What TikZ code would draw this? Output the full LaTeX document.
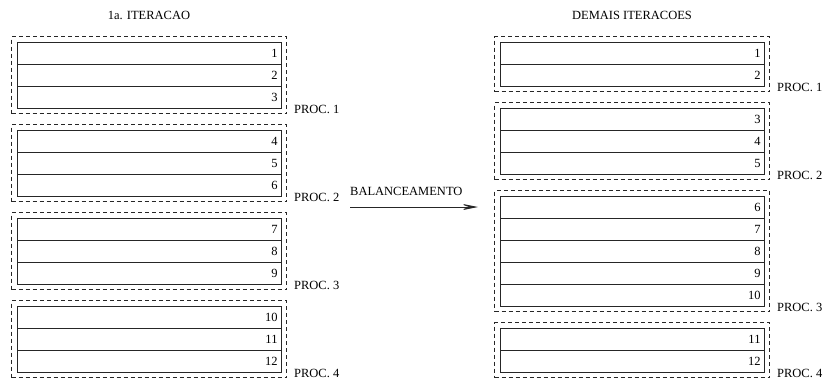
\documentclass[tikz,border=0pt]{standalone}
\usepackage{fontspec}
\setmainfont{Liberation Serif}
\usepackage{tikz}
\usetikzlibrary{positioning,fit,arrows.meta}

\begin{document}
\begin{tikzpicture}[
	x=1pt, y=1pt,
	every node/.style = {font=\fontsize{12.5}{14}\selectfont},
	rowbox/.style = {shape=rectangle, draw=black!85, line width=0.9pt,
		minimum width=264pt, minimum height=22pt, outer sep=0pt,
		text width=257pt, align=right, inner sep=3.5pt},
	procbox/.style = {shape=rectangle, draw=black!85, dashed, line width=0.9pt,
		dash pattern=on 4pt off 3pt, inner sep=5.5pt},
	proclabel/.style = {anchor=base west, inner sep=0pt},
	balarrow/.style = {draw=black!85, line width=0.9pt,
		-{Stealth[length=20pt, width=8pt, inset=11pt]}},
	node distance=0pt
	]

	\useasboundingbox (0,0) rectangle (827,-383);

	% 1a. iteracao
	\node (t1) at (149,-15) {1a. ITERACAO};
	\node[rowbox] (a1) at (149,-53) {1};
	\node[rowbox, below=of a1] (a2) {2};
	\node[rowbox, below=of a2] (a3) {3};
	\node[rowbox, below=22pt of a3] (a4) {4};
	\node[rowbox, below=of a4] (a5) {5};
	\node[rowbox, below=of a5] (a6) {6};
	\node[rowbox, below=22pt of a6] (a7) {7};
	\node[rowbox, below=of a7] (a8) {8};
	\node[rowbox, below=of a8] (a9) {9};
	\node[rowbox, below=22pt of a9] (a10) {10};
	\node[rowbox, below=of a10] (a11) {11};
	\node[rowbox, below=of a11] (a12) {12};

	\node[procbox, fit=(a1)(a3)] (pa1) {};
	\node[procbox, fit=(a4)(a6)] (pa2) {};
	\node[procbox, fit=(a7)(a9)] (pa3) {};
	\node[procbox, fit=(a10)(a12)] (pa4) {};

	\node[proclabel] (la1) at ([xshift=7pt]pa1.south east) {PROC. 1};
	\node[proclabel] (la2) at ([xshift=7pt]pa2.south east) {PROC. 2};
	\node[proclabel] (la3) at ([xshift=7pt]pa3.south east) {PROC. 3};
	\node[proclabel] (la4) at ([xshift=7pt]pa4.south east) {PROC. 4};

	% demais iteracoes
	\node (t2) at (632,-15) {DEMAIS ITERACOES};
	\node[rowbox] (b1) at (632,-53) {1};
	\node[rowbox, below=of b1] (b2) {2};
	\node[rowbox, below=22pt of b2] (b3) {3};
	\node[rowbox, below=of b3] (b4) {4};
	\node[rowbox, below=of b4] (b5) {5};
	\node[rowbox, below=22pt of b5] (b6) {6};
	\node[rowbox, below=of b6] (b7) {7};
	\node[rowbox, below=of b7] (b8) {8};
	\node[rowbox, below=of b8] (b9) {9};
	\node[rowbox, below=of b9] (b10) {10};
	\node[rowbox, below=22pt of b10] (b11) {11};
	\node[rowbox, below=of b11] (b12) {12};

	\node[procbox, fit=(b1)(b2)] (pb1) {};
	\node[procbox, fit=(b3)(b5)] (pb2) {};
	\node[procbox, fit=(b6)(b10)] (pb3) {};
	\node[procbox, fit=(b11)(b12)] (pb4) {};

	\node[proclabel] (lb1) at ([xshift=7pt]pb1.south east) {PROC. 1};
	\node[proclabel] (lb2) at ([xshift=7pt]pb2.south east) {PROC. 2};
	\node[proclabel] (lb3) at ([xshift=7pt]pb3.south east) {PROC. 3};
	\node[proclabel] (lb4) at ([xshift=7pt]pb4.south east) {PROC. 4};

	% balanceamento
	\coordinate (balstart) at (350,-207);
	\coordinate (balend) at (478,-207);
	\draw[balarrow] (balstart) -- node[anchor=base, yshift=12pt, pos=0.44, inner sep=0pt] (bal) {BALANCEAMENTO} (balend);
\end{tikzpicture}
\end{document}
